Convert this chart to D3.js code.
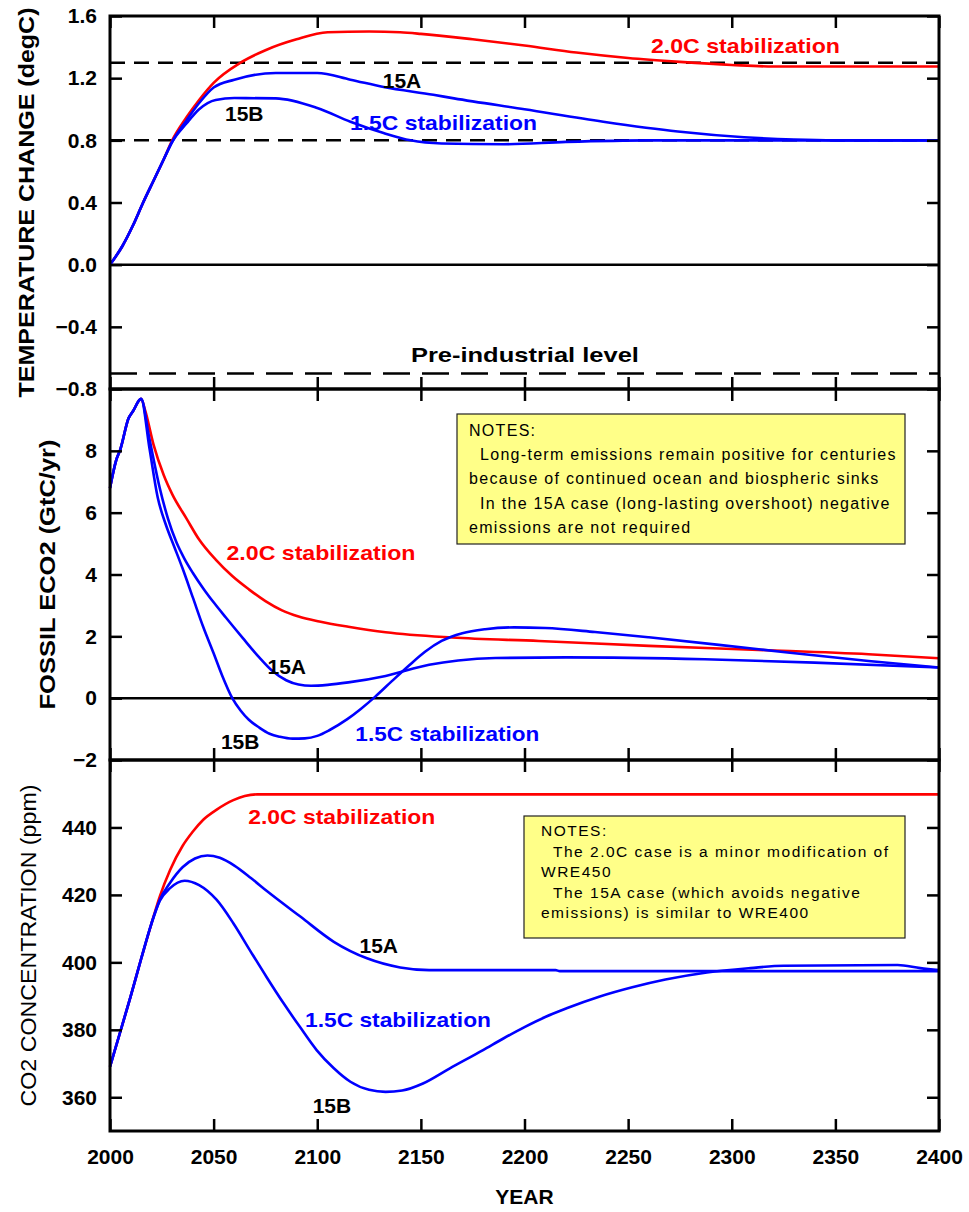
<!DOCTYPE html>
<html>
<head>
<meta charset="utf-8">
<script src="https://cdn.jsdelivr.net/npm/d3@7"></script>
<style>
  body { margin: 0; background: #fff; }
  text { font-family: "Liberation Sans", Arial, sans-serif; }
</style>
</head>
<body>
<svg id="chart" width="969" height="1212"></svg>
<script>
'use strict';

// ---- data: [year, value] ----
var temp20C = [[2000, 0], [2006, 0.12], [2011, 0.25], [2016, 0.40], [2021, 0.54], [2026, 0.68], [2030, 0.80],
    [2037, 0.95], [2043, 1.06], [2050, 1.17], [2063, 1.30], [2075, 1.38], [2090, 1.45], [2105, 1.495],
    [2125, 1.50], [2140, 1.495], [2150, 1.485], [2175, 1.45], [2200, 1.41], [2225, 1.365], [2250, 1.33],
    [2275, 1.305], [2300, 1.285], [2320, 1.275], [2350, 1.275], [2400, 1.275]];
var temp15A = [[2000, 0], [2006, 0.12], [2011, 0.25], [2016, 0.40], [2021, 0.54], [2026, 0.68], [2030, 0.79],
    [2037, 0.93], [2043, 1.04], [2050, 1.14], [2060, 1.19], [2080, 1.233], [2100, 1.233], [2116, 1.19],
    [2132, 1.143], [2156, 1.093], [2166, 1.07], [2200, 1.0], [2238, 0.92], [2274, 0.857], [2306, 0.82],
    [2330, 0.805], [2350, 0.80], [2400, 0.80]];
var temp15B = [[2000, 0], [2006, 0.12], [2011, 0.25], [2016, 0.40], [2021, 0.54], [2026, 0.68], [2030, 0.79],
    [2037, 0.91], [2043, 1.0], [2051, 1.06], [2060, 1.072], [2080, 1.07], [2100, 1.008], [2116, 0.92],
    [2132, 0.847], [2145, 0.80], [2160, 0.78], [2190, 0.775], [2220, 0.79], [2260, 0.80], [2400, 0.80]];
var tempRefLevels = [1.3, 0.8];
var preIndustrial = -0.7;

var emis20C = [[2000, 6.8], [2003, 7.7], [2005, 8.05], [2009, 9.06], [2011, 9.27], [2015, 9.68], [2017, 9.3],
    [2021, 8.2], [2026, 7.2], [2030, 6.6], [2037, 5.8], [2043, 5.13], [2051, 4.48], [2059, 3.95],
    [2067, 3.52], [2075, 3.14], [2083, 2.84], [2091, 2.64], [2101, 2.48], [2115, 2.31], [2133, 2.13],
    [2165, 1.96], [2207, 1.85], [2260, 1.69], [2313, 1.56], [2366, 1.42], [2400, 1.29]];
var emis15A = [[2000, 6.8], [2003, 7.7], [2005, 8.05], [2009, 9.06], [2011, 9.27], [2015, 9.68], [2019, 8.4],
    [2024, 6.8], [2028, 5.8], [2032, 5.05], [2036, 4.5], [2040, 4.05], [2045, 3.55], [2050, 3.1], [2056, 2.6],
    [2064, 1.95], [2072, 1.32], [2078, 0.9], [2085, 0.58], [2091, 0.44], [2097, 0.40], [2105, 0.43],
    [2115, 0.51], [2133, 0.72], [2154, 1.08], [2168, 1.22], [2186, 1.30], [2220, 1.32], [2287, 1.26],
    [2340, 1.15], [2400, 0.99]];
var emis15B = [[2000, 6.8], [2003, 7.7], [2005, 8.05], [2009, 9.06], [2011, 9.27], [2015, 9.68], [2019, 8.1],
    [2023, 6.5], [2027, 5.6], [2031, 4.9], [2035, 4.2], [2040, 3.25], [2045, 2.3], [2050, 1.45], [2054, 0.75],
    [2059, 0.0], [2063, -0.4], [2067, -0.7], [2072, -0.95], [2077, -1.15], [2082, -1.25], [2088, -1.31],
    [2094, -1.30], [2100, -1.22], [2106, -1.03], [2114.5, -0.68], [2121, -0.35], [2128, 0.05], [2136, 0.55],
    [2144, 1.04], [2152, 1.5], [2160, 1.85], [2170, 2.1], [2181, 2.23], [2195, 2.29], [2210, 2.27],
    [2234, 2.14], [2260, 1.97], [2313, 1.58], [2366, 1.20], [2400, 0.99]];

var co2_20C = [[2000, 369.1], [2005, 379.5], [2010, 390], [2015, 401], [2020, 411.5], [2024, 419.5],
    [2029, 427.4], [2035, 434.5], [2040, 438.8], [2045, 442.3], [2051.5, 445.3], [2059.5, 448.1],
    [2065, 449.3], [2071, 449.8], [2150, 449.8], [2250, 449.8], [2400, 449.8]];
var co2_15A = [[2000, 369.1], [2005, 379.5], [2010, 390], [2015, 401], [2020, 411.5], [2024, 418.5],
    [2029, 423.6], [2035, 428.2], [2041, 430.8], [2047, 431.7], [2053, 431.0], [2060, 428.7], [2068, 425.0],
    [2076, 421.0], [2092, 413.5], [2108, 406.1], [2124, 401.2], [2140, 398.5], [2154, 397.7], [2215, 397.7],
    [2217, 397.4], [2400, 397.4]];
var co2_15B = [[2000, 369.1], [2005, 379.5], [2010, 390], [2015, 401], [2020, 411.5], [2024, 418.2],
    [2029, 422.0], [2036, 424.2], [2043, 422.9], [2051.5, 418.5], [2059.5, 411.6], [2067.6, 403.5],
    [2075.6, 395.6], [2083.6, 388.0], [2091.7, 380.8], [2099.7, 374], [2108, 368.6], [2116, 364.6],
    [2125, 362.2], [2133, 361.6], [2141, 362.0], [2151, 364.1], [2164, 368.6], [2180, 374.0], [2190, 377.5],
    [2200, 380.8], [2210, 383.8], [2220, 386.3], [2236, 389.8], [2252, 392.6], [2268, 394.9], [2288, 397.0],
    [2309, 398.3], [2325, 399.0], [2380, 399.2], [2391, 398.3], [2400, 397.7]];

var yearTicks = [2000, 2050, 2100, 2150, 2200, 2250, 2300, 2350, 2400];
var tempTicks = [-0.8, -0.4, 0.0, 0.4, 0.8, 1.2, 1.6];
var emisTicks = [-2, 0, 2, 4, 6, 8];
var co2Ticks = [360, 380, 400, 420, 440];

var emisNotes = ['NOTES:', '  Long-term emissions remain positive for centuries',
    'because of continued ocean and biospheric sinks',
    '  In the 15A case (long-lasting overshoot) negative', 'emissions are not required'];
var co2Notes = ['NOTES:', '  The 2.0C case is a minor modification of', 'WRE450',
    '  The 15A case (which avoids negative', 'emissions) is similar to WRE400'];

var RED = '#ff0000', BLUE = '#0000ff';

var svg = d3.select('#chart');
var left = 110, right = 939;
var x = d3.scaleLinear().domain([2000, 2400]).range([left, right]);

var panels = [
    { y0: 16, y1: 389, domain: [-0.8, 1.6], ticks: tempTicks, fmt: d3.format('.1f'), zero: true,
      title: 'TEMPERATURE CHANGE  (degC)', titleX: 34, titleLen: 390, titleWeight: 'bold',
      series: [[temp20C, RED], [temp15A, BLUE], [temp15B, BLUE]],
      labels: [
          { t: '2.0C stabilization', c: RED, at: [2261, 1.361], len: 189 },
          { t: '15A', c: '#000', at: [2131.6, 1.138] },
          { t: '15B', c: '#000', at: [2055.5, 0.922] },
          { t: '1.5C stabilization', c: BLUE, at: [2115.8, 0.868], len: 187 },
          { t: 'Pre-industrial level', c: '#000', at: [2200.2, -0.624], len: 228, anchor: 'middle' }
      ] },
    { y0: 389, y1: 760, domain: [-2, 10], ticks: emisTicks, fmt: d3.format('d'), zero: true,
      title: 'FOSSIL ECO2  (GtC/yr)', titleX: 55, titleLen: 270, titleWeight: 'bold',
      series: [[emis20C, RED], [emis15A, BLUE], [emis15B, BLUE]],
      labels: [
          { t: '2.0C stabilization', c: RED, at: [2056.2, 4.46], len: 189 },
          { t: '15A', c: '#000', at: [2076, 0.774] },
          { t: '15B', c: '#000', at: [2053.5, -1.65] },
          { t: '1.5C stabilization', c: BLUE, at: [2118.4, -1.38], len: 184 }
      ],
      notes: { lines: emisNotes, x: 457, y: 414, w: 448, h: 130, first: 436, step: 24.2, size: 16,
               pad: 12, indent: 23, spacing: 1.3 } },
    { y0: 760, y1: 1131, domain: [350, 460], ticks: co2Ticks, fmt: d3.format('d'), zero: false,
      title: 'CO2 CONCENTRATION  (ppm)', titleX: 36, titleLen: 322, titleWeight: 'normal',
      series: [[co2_20C, RED], [co2_15A, BLUE], [co2_15B, BLUE]],
      labels: [
          { t: '2.0C stabilization', c: RED, at: [2066.7, 441.0], len: 187 },
          { t: '15A', c: '#000', at: [2120.4, 402.7] },
          { t: '15B', c: '#000', at: [2097.8, 355.4] },
          { t: '1.5C stabilization', c: BLUE, at: [2094.1, 380.9], len: 186 }
      ],
      notes: { lines: co2Notes, x: 524, y: 816, w: 381, h: 122, first: 836, step: 20.6, size: 15.5,
               pad: 17, indent: 29, spacing: 1.5 } }
];

function styleAxis(g) {
    g.select('.domain').remove();
    g.selectAll('.tick line').attr('stroke', '#000').attr('stroke-width', 2.5);
    g.selectAll('.tick text').attr('fill', '#000').style('font-size', '21px').style('font-weight', 'bold')
        .style('font-family', '"Liberation Sans", Arial, sans-serif');
}

panels.forEach(function (p, i) {
    var y = d3.scaleLinear().domain(p.domain).range([p.y1, p.y0]);
    var g = svg.append('g');

    // reference lines
    if (p.zero) {
        g.append('line').attr('x1', left).attr('x2', right).attr('y1', y(0)).attr('y2', y(0))
            .attr('stroke', '#000').attr('stroke-width', 2.5);
    }
    if (i === 0) {
        tempRefLevels.forEach(function (v) {
            g.append('line').attr('x1', left).attr('x2', right).attr('y1', y(v)).attr('y2', y(v))
                .attr('stroke', '#000').attr('stroke-width', 2.5).attr('stroke-dasharray', '15 9');
        });
        g.append('line').attr('x1', left).attr('x2', right).attr('y1', y(preIndustrial)).attr('y2', y(preIndustrial))
            .attr('stroke', '#000').attr('stroke-width', 2.5).attr('stroke-dasharray', '27 12');
    }

    // notes box
    if (p.notes) {
        var n = p.notes;
        g.append('rect').attr('x', n.x).attr('y', n.y).attr('width', n.w).attr('height', n.h)
            .attr('fill', '#ffff88').attr('stroke', '#222').attr('stroke-width', 1.2);
        n.lines.forEach(function (line, k) {
            var indented = line.charAt(0) === ' ';
            g.append('text').attr('x', n.x + (indented ? n.indent : n.pad)).attr('y', n.first + k * n.step)
                .style('font-size', n.size + 'px').style('letter-spacing', n.spacing + 'px')
                .attr('fill', '#000').text(line.trim());
        });
    }

    // curves
    var line = d3.line().x(function (d) { return x(d[0]); }).y(function (d) { return y(d[1]); })
        .curve(d3.curveMonotoneX);
    p.series.forEach(function (s) {
        g.append('path').datum(s[0]).attr('d', line).attr('fill', 'none')
            .attr('stroke', s[1]).attr('stroke-width', 2.6).attr('stroke-linejoin', 'round');
    });

    // labels
    p.labels.forEach(function (l) {
        var t = g.append('text').attr('x', x(l.at[0])).attr('y', y(l.at[1])).attr('fill', l.c)
            .style('font-size', '21px').style('font-weight', 'bold')
            .attr('text-anchor', l.anchor || 'start').text(l.t);
        if (l.len) t.attr('textLength', l.len).attr('lengthAdjust', 'spacingAndGlyphs');
    });

    // ticks on all four sides, pointing inward
    g.append('g').attr('transform', 'translate(' + left + ',0)')
        .call(d3.axisLeft(y).tickValues(p.ticks).tickFormat(p.fmt).tickSizeInner(-12).tickSizeOuter(0).tickPadding(13))
        .call(styleAxis);
    g.append('g').attr('transform', 'translate(' + right + ',0)')
        .call(d3.axisRight(y).tickValues(p.ticks).tickFormat('').tickSizeInner(-12).tickSizeOuter(0))
        .call(styleAxis);
    g.append('g').attr('transform', 'translate(0,' + p.y0 + ')')
        .call(d3.axisTop(x).tickValues(yearTicks).tickFormat('').tickSizeInner(-12).tickSizeOuter(0))
        .call(styleAxis);
    var bottomAxis = d3.axisBottom(x).tickValues(yearTicks).tickSizeInner(-12).tickSizeOuter(0).tickPadding(18)
        .tickFormat(i === panels.length - 1 ? d3.format('d') : '');
    g.append('g').attr('transform', 'translate(0,' + p.y1 + ')').call(bottomAxis).call(styleAxis);

    // frame
    g.append('rect').attr('x', left).attr('y', p.y0).attr('width', right - left).attr('height', p.y1 - p.y0)
        .attr('fill', 'none').attr('stroke', '#000').attr('stroke-width', 3);

    // y title
    svg.append('text').attr('transform', 'translate(' + p.titleX + ',' + ((p.y0 + p.y1) / 2) + ') rotate(-90)')
        .attr('text-anchor', 'middle').style('font-size', '22px').style('font-weight', p.titleWeight)
        .attr('textLength', p.titleLen).attr('lengthAdjust', 'spacingAndGlyphs').text(p.title);
});

svg.append('text').attr('x', (left + right) / 2).attr('y', 1204).attr('text-anchor', 'middle')
    .style('font-size', '21px').style('font-weight', 'bold').text('YEAR');
</script>
</body>
</html>
